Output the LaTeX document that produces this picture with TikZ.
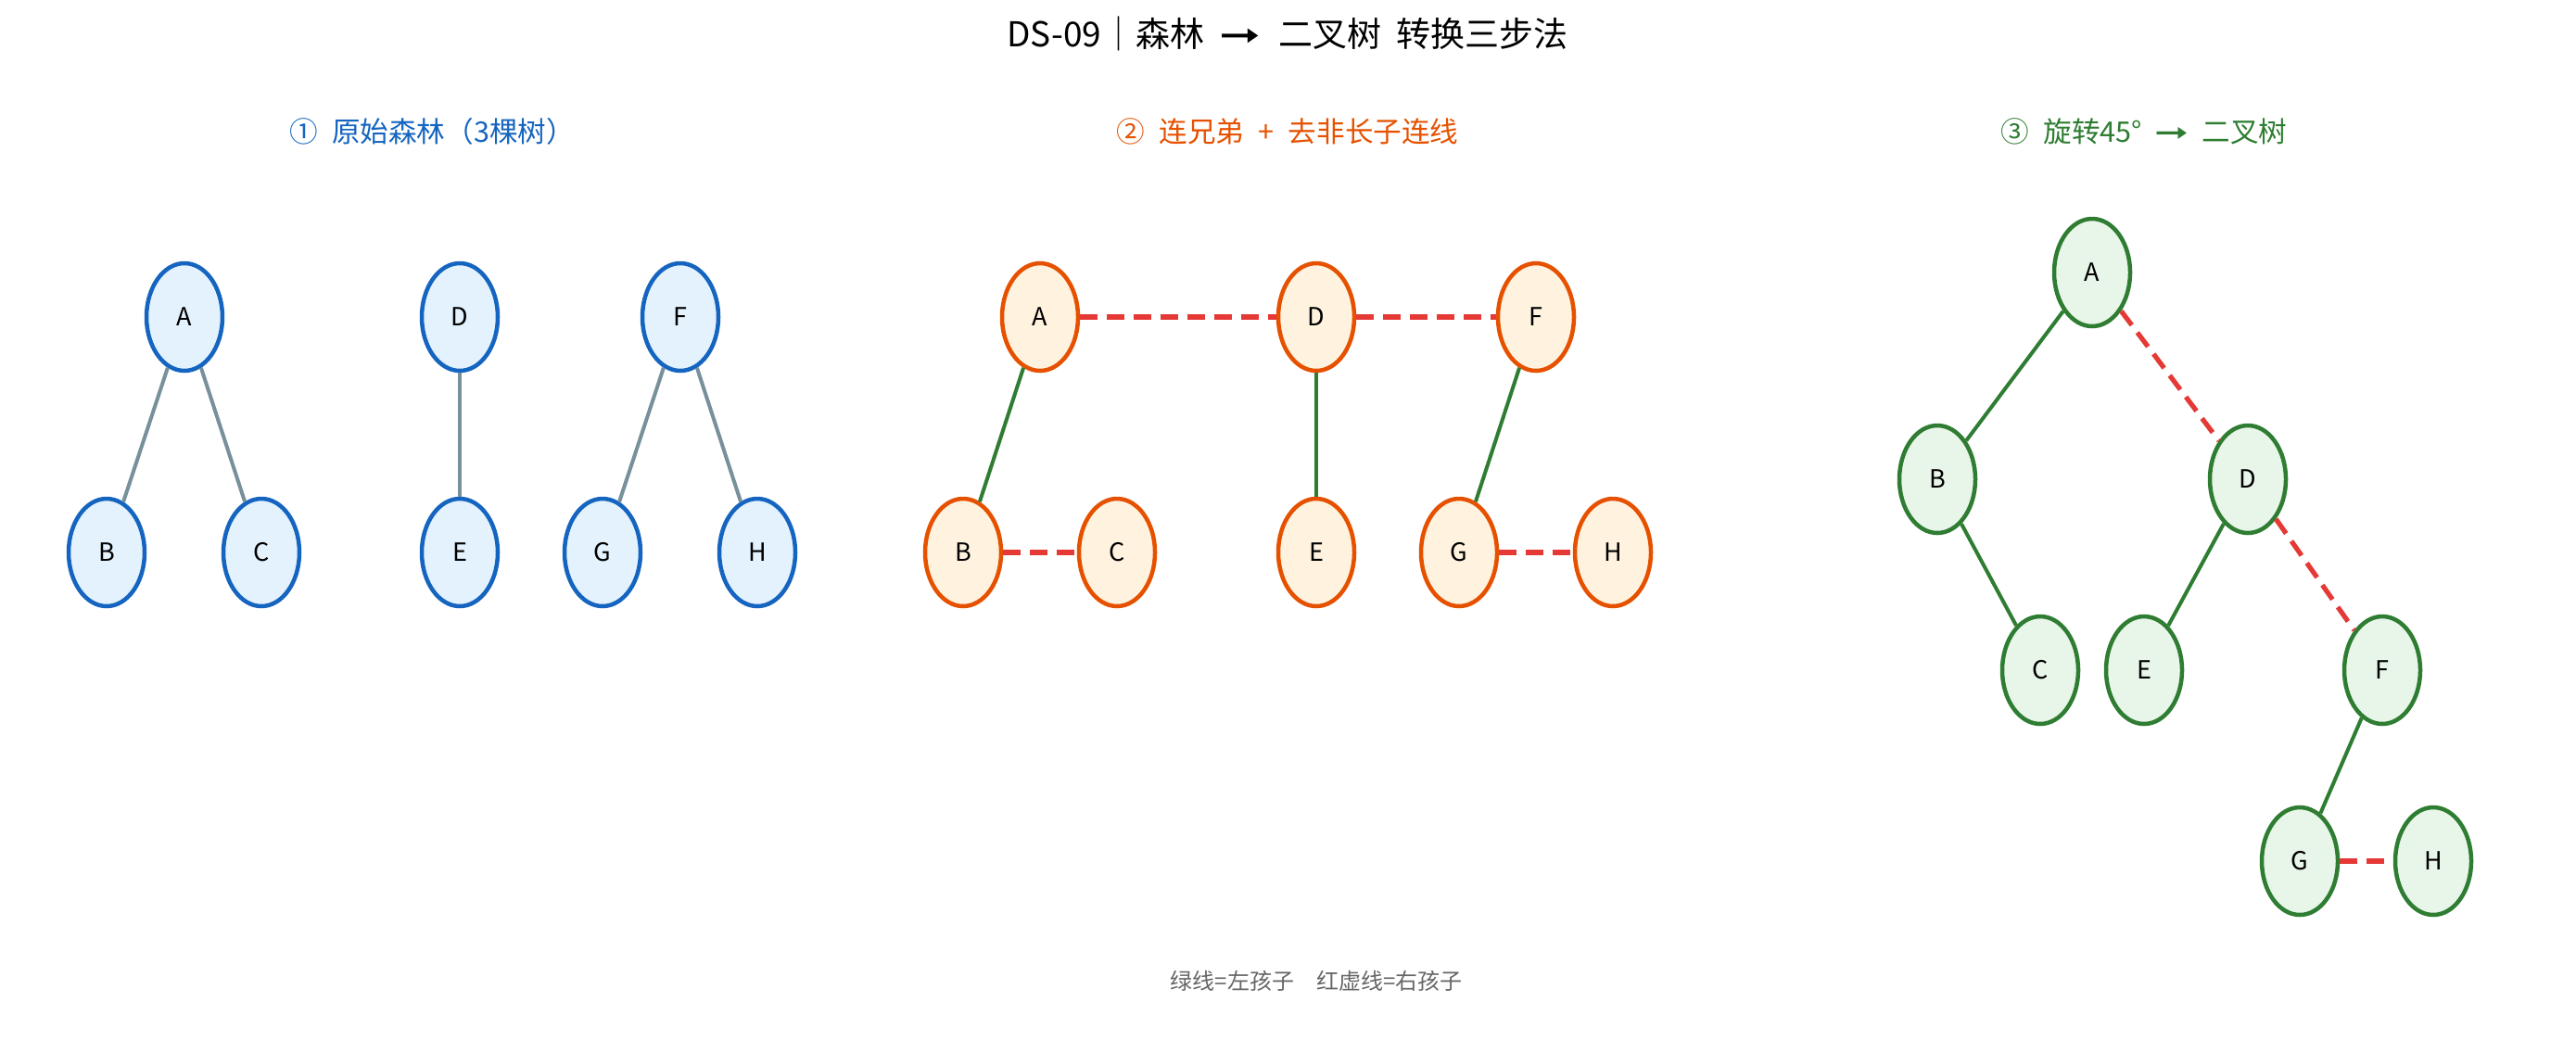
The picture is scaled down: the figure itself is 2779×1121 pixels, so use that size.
\documentclass[tikz,border=0pt]{standalone}
\usepackage{fontspec}
\setmainfont{Noto Sans CJK SC}
\newfontfamily\symfont{DejaVu Sans}
\usetikzlibrary{shapes.geometric}
\definecolor{bstroke}{HTML}{1565C0}
\definecolor{bfill}{HTML}{E3F2FD}
\definecolor{ostroke}{HTML}{E65100}
\definecolor{ofill}{HTML}{FFF3E0}
\definecolor{gstroke}{HTML}{2E7D32}
\definecolor{gfill}{HTML}{E8F5E9}
\definecolor{gedge}{HTML}{78909C}
\definecolor{redge}{HTML}{E53935}
\definecolor{legendgray}{HTML}{666666}
\newcommand{\harrow}{{\symfont\scalebox{1.45}[1.0]{➞}}}
\tikzset{
  tnode/.style={ellipse, minimum width=41pt, minimum height=58pt, inner sep=0pt, line width=2.25pt, font=\fontsize{13.5}{16}\selectfont},
  bnode/.style={tnode, draw=bstroke, fill=bfill},
  onode/.style={tnode, draw=ostroke, fill=ofill},
  gnode/.style={tnode, draw=gstroke, fill=gfill},
  grayedge/.style={draw=gedge, line width=2pt},
  leftedge/.style={draw=gstroke, line width=2pt},
  rightedge/.style={draw=redge, line width=2.6pt, dash pattern=on 9.5pt off 5pt},
  titletext/.style={font=\fontsize{18.5}{22}\selectfont},
  subtext/.style={font=\fontsize{15.3}{18}\selectfont},
}
\begin{document}
\begin{tikzpicture}[x=0.5pt,y=-0.5pt]
\useasboundingbox (0,0) rectangle (2779,1121);
\fill[white] (0,0) rectangle (2779,1121);
\node[titletext] (title) at (1389,36) {DS-09｜森林\hspace{0.45em}\harrow\hspace{0.5em}二叉树\hspace{0.45em}转换三步法};
\node[subtext, text=bstroke] (s1) at (466,142) {①\hspace{0.5em}原始森林（3棵树）};
\node[subtext, text=ostroke] (s2) at (1389,142) {②\hspace{0.5em}连兄弟\hspace{0.5em}+\hspace{0.5em}去非长子连线};
\node[subtext, text=gstroke] (s3) at (2313,142) {③\hspace{0.5em}旋转45°\hspace{0.45em}{\harrow}\hspace{0.45em}二叉树};
\node[font=\fontsize{12}{14}\selectfont, text=legendgray] (legend) at (1420,1058) {绿线=左孩子\hspace{1em}红虚线=右孩子};
% panel 1
\node[bnode] (a1) at (199,342) {A};
\node[bnode] (b1) at (115,596) {B};
\node[bnode] (c1) at (282,596) {C};
\node[bnode] (d1) at (496,342) {D};
\node[bnode] (e1) at (496,596) {E};
\node[bnode] (f1) at (734,342) {F};
\node[bnode] (g1) at (650,596) {G};
\node[bnode] (h1) at (817,596) {H};
\draw[grayedge] (a1) -- (b1);
\draw[grayedge] (a1) -- (c1);
\draw[grayedge] (d1) -- (e1);
\draw[grayedge] (f1) -- (g1);
\draw[grayedge] (f1) -- (h1);
% panel 2
\node[onode] (a2) at (1122,342) {A};
\node[onode] (b2) at (1039,596) {B};
\node[onode] (c2) at (1205,596) {C};
\node[onode] (d2) at (1420,342) {D};
\node[onode] (e2) at (1420,596) {E};
\node[onode] (f2) at (1657,342) {F};
\node[onode] (g2) at (1574,596) {G};
\node[onode] (h2) at (1740,596) {H};
\draw[rightedge] (a2) -- (d2);
\draw[rightedge] (d2) -- (f2);
\draw[leftedge] (a2) -- (b2);
\draw[leftedge] (d2) -- (e2);
\draw[leftedge] (f2) -- (g2);
\draw[rightedge] (b2) -- (c2);
\draw[rightedge] (g2) -- (h2);
% panel 3
\node[gnode] (a3) at (2257,294) {A};
\node[gnode] (b3) at (2090,517) {B};
\node[gnode] (d3) at (2425,517) {D};
\node[gnode] (c3) at (2201,723) {C};
\node[gnode] (e3) at (2313,723) {E};
\node[gnode] (f3) at (2570,723) {F};
\node[gnode] (g3) at (2481,929) {G};
\node[gnode] (h3) at (2625,929) {H};
\draw[leftedge] (a3) -- (b3);
\draw[rightedge] (a3) -- (d3);
\draw[leftedge] (b3) -- (c3);
\draw[leftedge] (d3) -- (e3);
\draw[rightedge] (d3) -- (f3);
\draw[leftedge] (f3) -- (g3);
\draw[rightedge] (g3) -- (h3);
\end{tikzpicture}
\end{document}
